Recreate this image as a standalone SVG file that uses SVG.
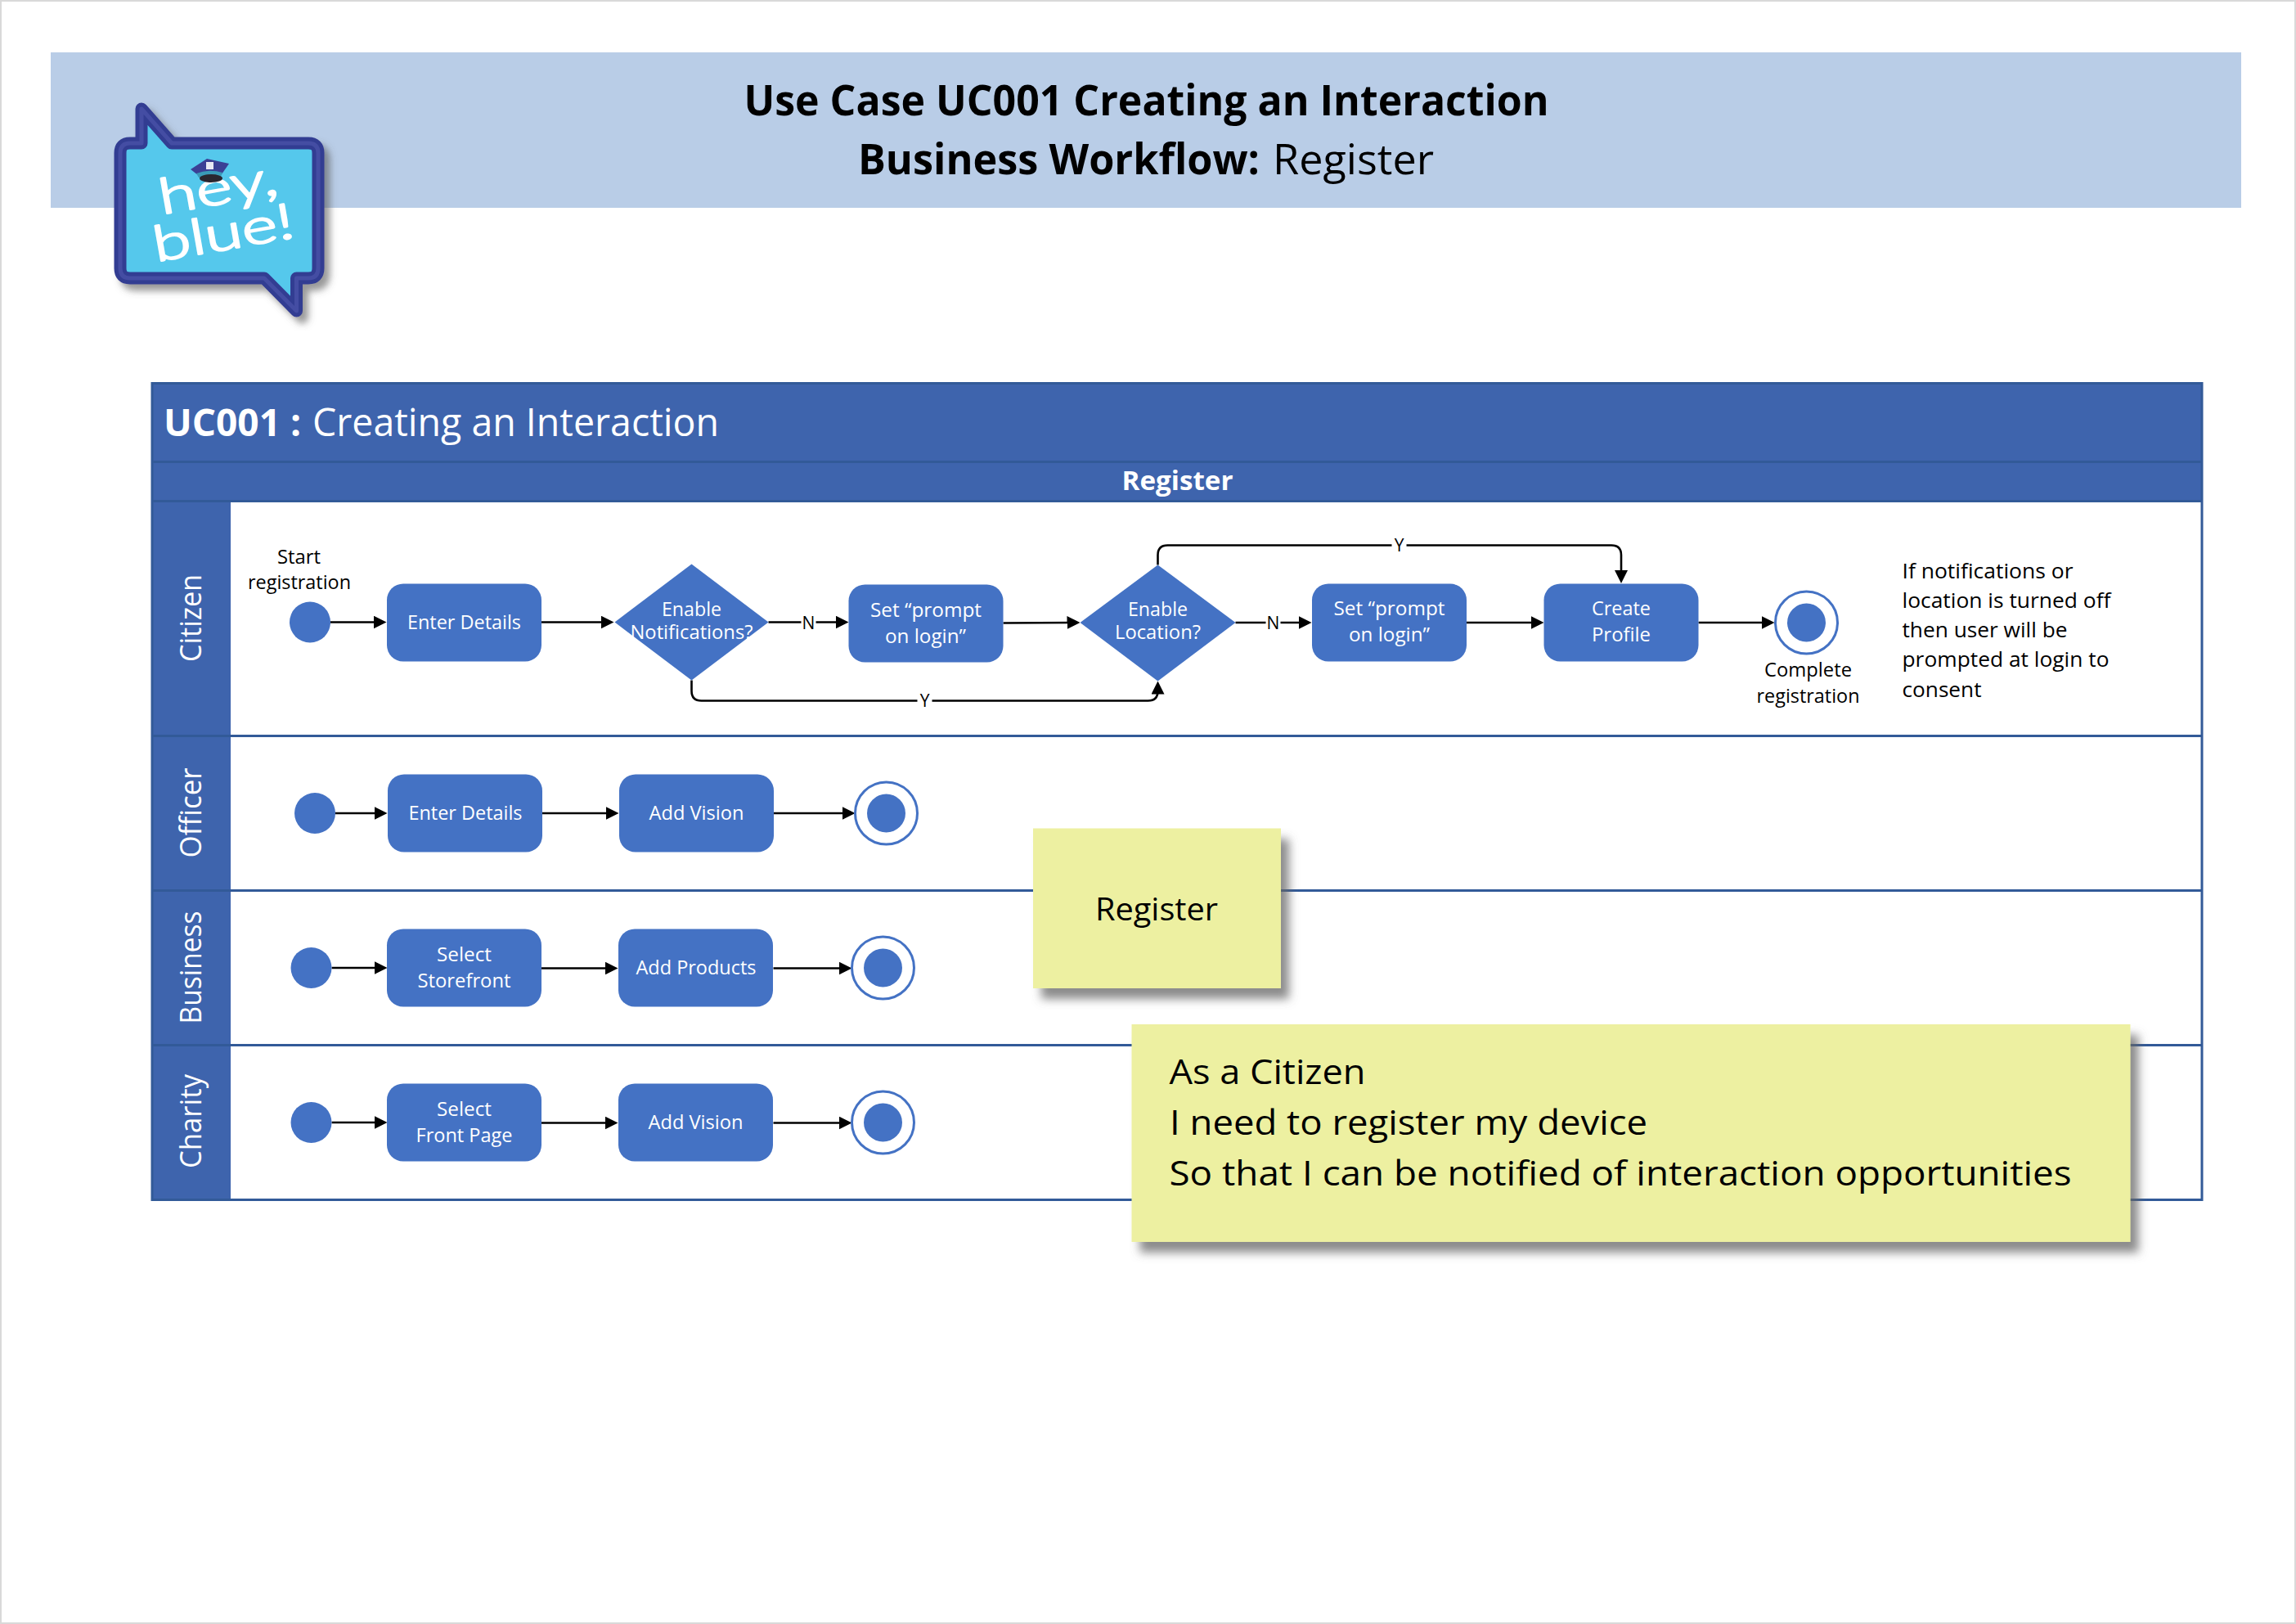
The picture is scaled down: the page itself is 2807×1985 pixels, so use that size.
<svg xmlns="http://www.w3.org/2000/svg" width="2807" height="1985" viewBox="0 0 2807 1985">
<style>
text{font-family:"Open Sans","Noto Sans","Liberation Sans",sans-serif}
.n{fill:#4472c4}
.w{fill:#fff}
.k{fill:#000}
.m{text-anchor:middle}
.nt{font-size:23px;fill:#fff;text-anchor:middle}
.lb{font-size:23px;fill:#000;text-anchor:middle}
.lane{font-size:37px;fill:#fff;text-anchor:middle}
.hdr{fill:#3e64ad}
.rule{stroke:#325a98;stroke-width:3;fill:none}
.c{fill:none;stroke:#000;stroke-width:2.6}
.ring{fill:#fff;stroke:#4472c4;stroke-width:3}
.sticky{fill:#edf0a1;filter:url(#sh)}
.yn{font-size:21px;fill:#000;text-anchor:middle}
.logot{font-family:Lato,"Open Sans",sans-serif;font-size:60px;font-weight:300;fill:#fff;stroke:#fff;stroke-width:2.4;stroke-linejoin:round}
</style>
<defs>
<marker id="a" markerUnits="userSpaceOnUse" markerWidth="16" markerHeight="16" viewBox="0 0 16 16" refX="11" refY="8" orient="auto"><path d="M0 0L16 8L0 16Z" fill="#000"/></marker>
<filter id="sh" x="-10%" y="-10%" width="125%" height="125%"><feDropShadow dx="10" dy="13" stdDeviation="6" flood-color="#666" flood-opacity=".75"/></filter>
<filter id="lsh" x="-10%" y="-10%" width="125%" height="125%"><feDropShadow dx="7" dy="8" stdDeviation="4" flood-color="#555" flood-opacity=".6"/></filter>
</defs>
<rect width="2807" height="1985" fill="#fff"/>
<rect x="1" y="1" width="2805" height="1983" fill="none" stroke="#d9d9d9" stroke-width="2"/>
<g id="title-band">
<rect x="62" y="64" width="2678" height="190" fill="#b9cde7"/>
<text x="1401.5" y="141" class="m" font-size="52" font-weight="700" textLength="984" lengthAdjust="spacingAndGlyphs">Use Case UC001 Creating an Interaction</text>
<text x="1049" y="213" font-size="52" font-weight="700" textLength="491" lengthAdjust="spacingAndGlyphs">Business Workflow:</text>
<text x="1556" y="213" font-size="52" textLength="197" lengthAdjust="spacingAndGlyphs">Register</text>
</g>
<g id="logo">
<g filter="url(#lsh)">
<path d="M147 187Q147 175 159 175H173V133L210 175H377Q389 175 389 187V328Q389 340 377 340H362.5V380L323 340H159Q147 340 147 328Z" fill="#54c8ec" stroke="#323c92" stroke-width="15" stroke-linejoin="round"/>
</g>
<path d="M147 187Q147 175 159 175H173V133L210 175H377Q389 175 389 187V328Q389 340 377 340H362.5V380L323 340H159Q147 340 147 328Z" fill="none" stroke="#444da3" stroke-width="5" stroke-linejoin="round"/>
<text transform="translate(198 262) rotate(-10)" class="logot" textLength="146" lengthAdjust="spacingAndGlyphs">hey,</text>
<text transform="translate(191 320) rotate(-10)" class="logot" textLength="174" lengthAdjust="spacingAndGlyphs">blue!</text>
<path d="M233 207L253 194L280 200L271 213L242 214Z" fill="#3b3f95"/>
<path d="M240 212Q256 206 272 211L270 216L243 217Z" fill="#3a9ab8"/>
<ellipse cx="258" cy="218" rx="14" ry="5" fill="#2a2630"/>
<rect x="252" y="198" width="9" height="9" fill="#e8e8f4"/>
</g>
<g id="swimlane" transform="translate(0 1.5)">
<rect x="186" y="467" width="2506" height="998" fill="#fff"/>
<rect x="186" y="467" width="2506" height="143" class="hdr"/>
<rect x="186" y="610" width="96" height="855" class="hdr"/>
<path class="rule" d="M186 563H2692M186 611H2692M186 898H2692M186 1087H2692M186 1276H2692M186 467H2692V1465H186Z"/>
<text x="200" y="531" font-size="47" font-weight="700" fill="#fff" textLength="168" lengthAdjust="spacingAndGlyphs">UC001 :</text>
<text x="382" y="531" font-size="47" fill="#fff" textLength="497" lengthAdjust="spacingAndGlyphs">Creating an Interaction</text>
<text x="1439.5" y="597" class="m" font-size="33" font-weight="700" fill="#fff" textLength="136" lengthAdjust="spacingAndGlyphs">Register</text>
<text transform="translate(246 754) rotate(-90)" class="lane" textLength="107" lengthAdjust="spacingAndGlyphs">Citizen</text>
<text transform="translate(246 992) rotate(-90)" class="lane" textLength="110" lengthAdjust="spacingAndGlyphs">Officer</text>
<text transform="translate(246 1181) rotate(-90)" class="lane" textLength="138" lengthAdjust="spacingAndGlyphs">Business</text>
<text transform="translate(246 1369) rotate(-90)" class="lane" textLength="115" lengthAdjust="spacingAndGlyphs">Charity</text>
</g>
<g id="connectors" transform="translate(0.5 1.5)">
<path class="c" marker-end="url(#a)" d="M403 759H467"/>
<path class="c" marker-end="url(#a)" d="M661 759H745"/>
<path class="c" marker-end="url(#a)" d="M939 759H1032"/>
<path class="c" marker-end="url(#a)" d="M1226 760L1315 759.5"/>
<path class="c" marker-end="url(#a)" d="M1510 759.5H1598"/>
<path class="c" marker-end="url(#a)" d="M1792 759.5H1882"/>
<path class="c" marker-end="url(#a)" d="M2076 759.5H2164"/>
<path class="c" marker-end="url(#a)" d="M845 830V843Q845 855 857 855H1403Q1415 855 1415 843V836"/>
<path class="c" marker-end="url(#a)" d="M1415 689V677Q1415 665 1427 665H1969.5Q1981.5 665 1981.5 677V706.5"/>
<path class="c" marker-end="url(#a)" d="M409 992.5H468"/>
<path class="c" marker-end="url(#a)" d="M662 992.5H751"/>
<path class="c" marker-end="url(#a)" d="M945 992.5H1040"/>
<path class="c" marker-end="url(#a)" d="M405 1181.5H468"/>
<path class="c" marker-end="url(#a)" d="M661 1182H750"/>
<path class="c" marker-end="url(#a)" d="M945 1182H1036"/>
<path class="c" marker-end="url(#a)" d="M405 1370.5H468"/>
<path class="c" marker-end="url(#a)" d="M661 1371H750"/>
<path class="c" marker-end="url(#a)" d="M945 1371H1036"/>
<g id="edge-labels">
<rect x="979" y="748" width="18" height="24" class="w"/><text x="988" y="767" class="yn">N</text>
<rect x="1547" y="748" width="18" height="24" class="w"/><text x="1556" y="767" class="yn">N</text>
<rect x="1121" y="843" width="18" height="24" class="w"/><text x="1130" y="862.5" class="yn">Y</text>
<rect x="1701" y="653" width="18" height="24" class="w"/><text x="1710" y="672.5" class="yn">Y</text>
</g>
</g>
<g id="nodes" transform="translate(0.5 1.5)">
<g id="citizen-start"><circle cx="378.5" cy="759" r="25" class="n"/>
<text x="365" y="687" class="lb" textLength="53" lengthAdjust="spacingAndGlyphs">Start</text>
<text x="365.5" y="718" class="lb" textLength="126" lengthAdjust="spacingAndGlyphs">registration</text></g>
<g id="citizen-enter"><rect x="472.5" y="712" width="189" height="95" rx="20" class="n"/>
<text x="567" y="767" class="nt" textLength="139" lengthAdjust="spacingAndGlyphs">Enter Details</text></g>
<g id="citizen-notify"><path d="M845 688L939 759L845 830L751 759Z" class="n"/>
<text x="845" y="751" class="nt" textLength="73" lengthAdjust="spacingAndGlyphs">Enable</text>
<text x="845" y="779" class="nt" textLength="150" lengthAdjust="spacingAndGlyphs">Notifications?</text></g>
<g id="citizen-prompt1"><rect x="1037" y="713" width="189" height="95" rx="20" class="n"/>
<text x="1131.5" y="752" class="nt" textLength="136" lengthAdjust="spacingAndGlyphs">Set “prompt</text>
<text x="1131" y="784" class="nt" textLength="99" lengthAdjust="spacingAndGlyphs">on login”</text></g>
<g id="citizen-location"><path d="M1415 689L1510 759.5L1415 831L1320 759.5Z" class="n"/>
<text x="1415" y="751.5" class="nt" textLength="73" lengthAdjust="spacingAndGlyphs">Enable</text>
<text x="1415" y="779.5" class="nt" textLength="105" lengthAdjust="spacingAndGlyphs">Location?</text></g>
<g id="citizen-prompt2"><rect x="1603.5" y="712" width="189" height="95" rx="20" class="n"/>
<text x="1698" y="750" class="nt" textLength="136" lengthAdjust="spacingAndGlyphs">Set “prompt</text>
<text x="1698" y="782" class="nt" textLength="99" lengthAdjust="spacingAndGlyphs">on login”</text></g>
<g id="citizen-profile"><rect x="1887" y="712" width="189" height="95" rx="20" class="n"/>
<text x="1981.5" y="750.5" class="nt" textLength="72" lengthAdjust="spacingAndGlyphs">Create</text>
<text x="1981.5" y="782.5" class="nt" textLength="72" lengthAdjust="spacingAndGlyphs">Profile</text></g>
<g id="citizen-end"><circle cx="2208" cy="759.5" r="38" class="ring"/><circle cx="2208" cy="759.5" r="23.5" class="n"/>
<text x="2210" y="825" class="lb" textLength="107" lengthAdjust="spacingAndGlyphs">Complete</text>
<text x="2210" y="857" class="lb" textLength="126" lengthAdjust="spacingAndGlyphs">registration</text></g>
<g id="citizen-note" font-size="25">
<text x="2325" y="705" textLength="209" lengthAdjust="spacingAndGlyphs">If notifications or</text>
<text x="2325" y="741" textLength="255" lengthAdjust="spacingAndGlyphs">location is turned off</text>
<text x="2325" y="777" textLength="202" lengthAdjust="spacingAndGlyphs">then user will be</text>
<text x="2325" y="813" textLength="253" lengthAdjust="spacingAndGlyphs">prompted at login to</text>
<text x="2325" y="850" textLength="97" lengthAdjust="spacingAndGlyphs">consent</text></g>
<g id="officer-start"><circle cx="384.5" cy="992.5" r="25" class="n"/></g>
<g id="officer-enter"><rect x="473.5" y="945" width="189" height="95" rx="20" class="n"/>
<text x="568.5" y="1000.5" class="nt" textLength="139" lengthAdjust="spacingAndGlyphs">Enter Details</text></g>
<g id="officer-vision"><rect x="756.5" y="945" width="189" height="95" rx="20" class="n"/>
<text x="851" y="1000.5" class="nt" textLength="116" lengthAdjust="spacingAndGlyphs">Add Vision</text></g>
<g id="officer-end"><circle cx="1083" cy="992.5" r="38" class="ring"/><circle cx="1083" cy="992.5" r="23.5" class="n"/></g>
<g id="business-start"><circle cx="380" cy="1181.5" r="25" class="n"/></g>
<g id="business-storefront"><rect x="472.5" y="1134" width="189" height="95" rx="20" class="n"/>
<text x="567" y="1173" class="nt" textLength="67" lengthAdjust="spacingAndGlyphs">Select</text>
<text x="567" y="1205" class="nt" textLength="114" lengthAdjust="spacingAndGlyphs">Storefront</text></g>
<g id="business-products"><rect x="755.5" y="1134" width="189" height="95" rx="20" class="n"/>
<text x="850.5" y="1189" class="nt" textLength="147" lengthAdjust="spacingAndGlyphs">Add Products</text></g>
<g id="business-end"><circle cx="1079" cy="1181.5" r="38" class="ring"/><circle cx="1079" cy="1181.5" r="23.5" class="n"/></g>
<g id="charity-start"><circle cx="380" cy="1370.5" r="25" class="n"/></g>
<g id="charity-frontpage"><rect x="472.5" y="1323" width="189" height="95" rx="20" class="n"/>
<text x="567" y="1362" class="nt" textLength="67" lengthAdjust="spacingAndGlyphs">Select</text>
<text x="567" y="1394" class="nt" textLength="118" lengthAdjust="spacingAndGlyphs">Front Page</text></g>
<g id="charity-vision"><rect x="755.5" y="1323" width="189" height="95" rx="20" class="n"/>
<text x="850" y="1378" class="nt" textLength="116" lengthAdjust="spacingAndGlyphs">Add Vision</text></g>
<g id="charity-end"><circle cx="1079" cy="1370.5" r="38" class="ring"/><circle cx="1079" cy="1370.5" r="23.5" class="n"/></g>
</g>
<g id="sticky-register"><rect x="1263" y="1012.5" width="303" height="195.5" class="sticky"/>
<text x="1414" y="1125" class="m" font-size="38" textLength="150" lengthAdjust="spacingAndGlyphs">Register</text></g>
<g id="sticky-story"><rect x="1383.5" y="1252" width="1221" height="266" class="sticky"/>
<g font-size="42">
<text x="1429.5" y="1324.5" textLength="240" lengthAdjust="spacingAndGlyphs">As a Citizen</text>
<text x="1430" y="1386.5" textLength="584" lengthAdjust="spacingAndGlyphs">I need to register my device</text>
<text x="1429.5" y="1448.5" textLength="1103" lengthAdjust="spacingAndGlyphs">So that I can be notified of interaction opportunities</text>
</g></g>
</svg>
